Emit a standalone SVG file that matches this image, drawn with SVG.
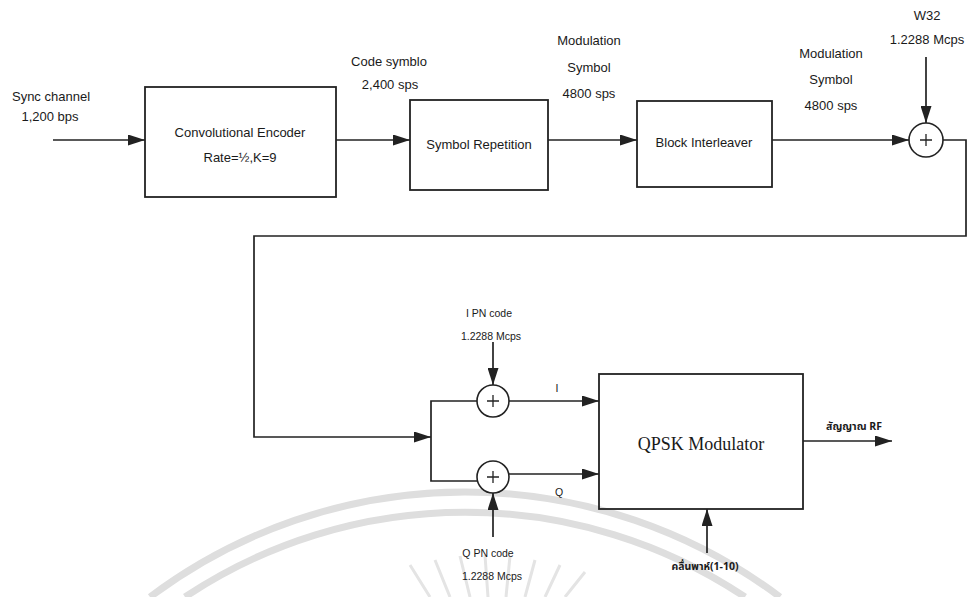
<svg xmlns="http://www.w3.org/2000/svg" width="969" height="597" viewBox="0 0 969 597">
<defs>
<marker id="ah" markerWidth="17" markerHeight="11" refX="17" refY="5.5" orient="auto" markerUnits="userSpaceOnUse"><path d="M0,0 L17,5.5 L0,11 z" fill="#222"/></marker>
<style>
.box{fill:none;stroke:#222;stroke-width:1.8}
.ln{fill:none;stroke:#222;stroke-width:1.7}
.ar{fill:none;stroke:#222;stroke-width:1.7;marker-end:url(#ah)}
.sum{fill:#fff;stroke:#222;stroke-width:1.6}
.plus{stroke:#222;stroke-width:1.3}
.t{font-family:"Liberation Sans","Noto Sans",sans-serif;font-size:13px;fill:#1a1a1a;text-anchor:middle}
.s{font-family:"Liberation Sans","Noto Sans",sans-serif;font-size:10.5px;fill:#1a1a1a;text-anchor:middle}
.th{font-family:"Noto Sans Thai","Noto Sans","Liberation Sans",sans-serif;font-size:10.5px;font-weight:bold;fill:#1a1a1a;text-anchor:middle}
.q{font-family:"Liberation Serif",serif;font-size:18px;fill:#1a1a1a;text-anchor:middle}
.wm{fill:none;stroke:#dedede;stroke-width:7}
.wr{fill:none;stroke:#e4e4e4;stroke-width:3}
</style>
</defs>
<rect width="969" height="597" fill="#fff"/>
<g id="watermark">
<path class="wm" d="M150,597 A525,525 0 0 1 780,597"/>
<path class="wm" d="M185,597 A505,505 0 0 1 745,597"/>
<path class="wr" d="M410,565 L430,597 M435,560 L450,597 M460,556 L470,597 M485,555 L488,597 M510,556 L506,597 M535,560 L525,597 M560,565 L545,597 M585,572 L565,597"/>
</g>
<g id="connectors">
<path class="ar" d="M53,140 H145"/>
<path class="ar" d="M336,140 H410"/>
<path class="ar" d="M548,140 H637"/>
<path class="ar" d="M772,140 H909"/>
<path class="ar" d="M926,57 V123"/>
<path class="ar" d="M943,140 H966 V236 H254 V437 H431"/>
<path class="ln" d="M477,401 H431 V481 H478"/>
<path class="ar" d="M509,401 H599"/>
<path class="ar" d="M509,474 H599"/>
<path class="ar" d="M493,342 V385"/>
<path class="ar" d="M493,537 V493"/>
<path class="ar" d="M803,441 H892"/>
<path class="ar" d="M707,553 V509"/>
</g>
<g id="sync-label">
<text class="t" x="51" y="101">Sync channel</text>
<text class="t" x="50" y="121">1,200 bps</text>
</g>
<g id="conv-encoder">
<rect class="box" x="145" y="87" width="191" height="110"/>
<text class="t" x="240" y="137">Convolutional Encoder</text>
<text class="t" x="240" y="162">Rate=½,K=9</text>
</g>
<g id="code-label">
<text class="t" x="389" y="66">Code symblo</text>
<text class="t" x="390" y="89">2,400 sps</text>
</g>
<g id="symbol-repetition">
<rect class="box" x="410" y="100" width="138" height="90"/>
<text class="t" x="479" y="149">Symbol Repetition</text>
</g>
<g id="mod-label-1">
<text class="t" x="589" y="45">Modulation</text>
<text class="t" x="589" y="72">Symbol</text>
<text class="t" x="589" y="98">4800 sps</text>
</g>
<g id="block-interleaver">
<rect class="box" x="637" y="101" width="135" height="86"/>
<text class="t" x="704" y="147">Block Interleaver</text>
</g>
<g id="mod-label-2">
<text class="t" x="831" y="58">Modulation</text>
<text class="t" x="831" y="84">Symbol</text>
<text class="t" x="831" y="110">4800 sps</text>
</g>
<g id="w32-label">
<text class="t" x="927" y="20">W32</text>
<text class="t" x="927" y="44">1.2288 Mcps</text>
</g>
<g id="sum-w32">
<circle class="sum" cx="926" cy="140" r="17"/>
<path class="plus" d="M920,140 H932 M926,134 V146"/>
</g>
<g id="sum-i">
<circle class="sum" cx="493" cy="401" r="16"/>
<path class="plus" d="M487,401 H499 M493,395 V407"/>
</g>
<g id="sum-q">
<circle class="sum" cx="493" cy="477" r="16"/>
<path class="plus" d="M487,477 H499 M493,471 V483"/>
</g>
<g id="ipn-label">
<text class="s" x="489" y="317">I PN code</text>
<text class="s" x="491" y="340">1.2288 Mcps</text>
</g>
<g id="qpn-label">
<text class="s" x="488" y="557">Q PN code</text>
<text class="s" x="492" y="580">1.2288 Mcps</text>
</g>
<g id="iq-labels">
<text class="s" x="557" y="392">I</text>
<text class="s" x="559" y="496">Q</text>
</g>
<g id="qpsk-modulator">
<rect class="box" x="599" y="374" width="204" height="135"/>
<text class="q" x="701" y="450">QPSK Modulator</text>
</g>
<g id="rf-label">
<text class="th" x="854" y="430">สัญญาณ RF</text>
</g>
<g id="carrier-label">
<text class="th" x="705" y="570">คลื่นพาห์(1-10)</text>
</g>
</svg>
